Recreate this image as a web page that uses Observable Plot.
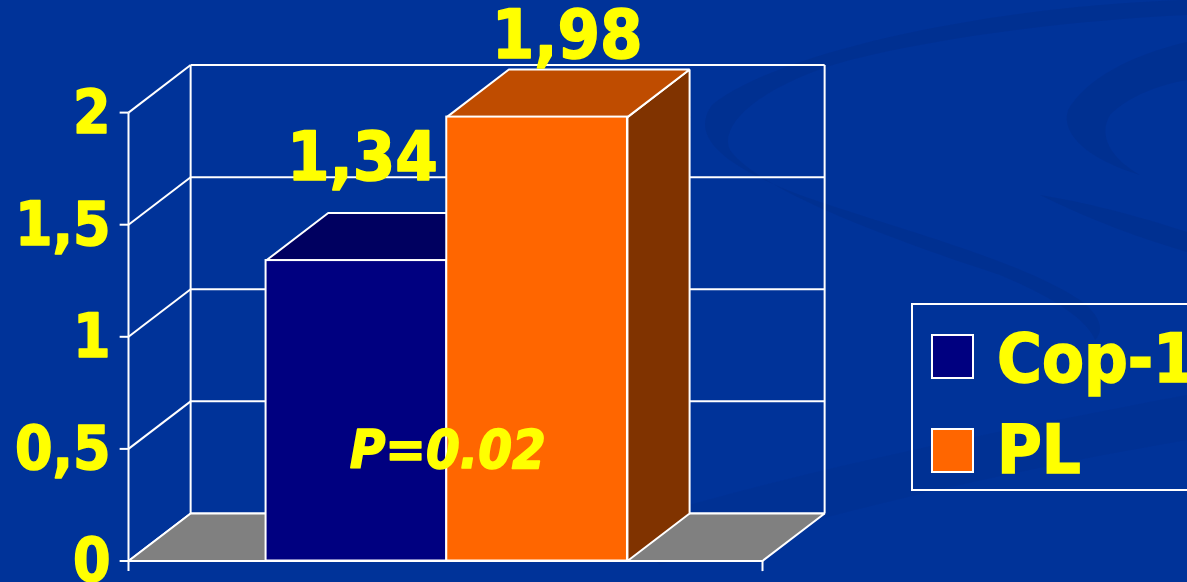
<!DOCTYPE html>
<html>
<head>
<meta charset="utf-8">
<script src="https://cdn.jsdelivr.net/npm/d3@7"></script>
<script src="https://cdn.jsdelivr.net/npm/@observablehq/plot@0.6"></script>
<style>
  html, body { margin: 0; padding: 0; background: #003399; overflow: hidden; }
  #wrap { position: relative; width: 1187px; height: 582px; overflow: hidden; background: #003399; }
  #bg { position: absolute; left: 0; top: 0; }
  #chart { position: absolute; left: 0; top: 0; }
  #legend { position: absolute; left: 911px; top: 303px; width: 300px; height: 188px;
            border: 2px solid #fff; box-sizing: border-box; }
  .sw { position: absolute; left: 18px; width: 39px; height: 41px; border: 2px solid #fff; }
  .lab { position: absolute; left: 84px; color: #ffff00; font-family: 'DejaVu Sans Condensed', 'DejaVu Sans', sans-serif;
         font-weight: bold; font-size: 68px; line-height: 68px; white-space: nowrap;
         -webkit-text-stroke: 1.5px #ffff00; }
</style>
</head>
<body>
<div id="wrap">
  <svg id="bg" width="1187" height="582">
    <g fill="#00308f" opacity="0.75">
      <path d="M1187,0 C1000,5 780,50 712,105 C690,135 720,165 800,195 C900,230 1020,260 1080,300 C1100,315 1105,330 1095,340 C1088,322 1060,300 1000,275 C900,242 760,192 730,150 C718,125 760,85 850,60 C950,35 1080,20 1187,15 Z"/>
      <path d="M1187,42 C1130,55 1085,80 1068,110 C1060,135 1090,160 1140,175 C1110,158 1098,135 1110,115 C1130,95 1160,85 1187,80 Z"/>
      <path d="M1040,195 C1100,205 1150,220 1187,232 L1187,252 C1140,238 1090,220 1040,195 Z"/>
      <path d="M620,525 C800,470 1000,430 1187,395 L1187,440 C1000,472 820,515 660,565 Z" opacity="0.6"/>
    </g>
  </svg>
  <div id="chart"></div>
  <div id="legend"></div>
</div>
<script>
// ---- data ----
const categories = ["Cop-1", "PL"];
const values = [1.34, 1.98];
const valueLabels = ["1,34", "1,98"];
const frontColors = ["#000080", "#FF6600"];
const topColors = ["#000060", "#BF4C00"];
const sideColors = ["#000040", "#803300"];
const yTicks = [0, 0.5, 1, 1.5, 2];
const yTickLabels = ["0", "0,5", "1", "1,5", "2"];
const annotation = "P=0.02";

// ---- layout constants (3D projection) ----
const DX = 0.098;      // depth offset along x (category units)
const DY = 0.212;      // depth offset along y (value units)
const BAR_START = 0.217;
const BAR_W = 0.285;
const TICK = 0.014;
const FONT = "'DejaVu Sans Condensed', 'DejaVu Sans', sans-serif";
const YELLOW = "#ffff00";

const bars = categories.map((c, i) => ({
  cat: c, v: values[i], label: valueLabels[i],
  x1: BAR_START + i * BAR_W, x2: BAR_START + (i + 1) * BAR_W,
  front: frontColors[i], top: topColors[i], side: sideColors[i]
}));

const poly = (pts, fill) => Plot.line(pts, {
  x: "x", y: "y", curve: "linear-closed", fill, stroke: "white", strokeWidth: 2, strokeLinejoin: "miter"
});
const textStyle = {fill: YELLOW, stroke: YELLOW, strokeWidth: 1.5, fontWeight: "bold", fontFamily: FONT};

const yMax = Math.max(...yTicks);
const marks = [];

// back wall gridlines
marks.push(Plot.link(yTicks, {x1: DX, x2: 1 + DX, y1: d => d + DY, y2: d => d + DY, stroke: "white", strokeWidth: 2}));
marks.push(Plot.link([DX, 1 + DX], {x1: d => d, x2: d => d, y1: DY, y2: yMax + DY, stroke: "white", strokeWidth: 2}));
// left wall diagonals
marks.push(Plot.link(yTicks, {x1: 0, x2: DX, y1: d => d, y2: d => d + DY, stroke: "white", strokeWidth: 2}));
// floor
marks.push(poly([{x: 0, y: 0}, {x: 1, y: 0}, {x: 1 + DX, y: DY}, {x: DX, y: DY}], "#808080"));
// front value axis
marks.push(Plot.link([0], {x1: 0, x2: 0, y1: -0.045, y2: yMax, stroke: "white", strokeWidth: 2}));
marks.push(Plot.link(yTicks, {x1: -TICK, x2: 0, y1: d => d, y2: d => d, stroke: "white", strokeWidth: 2}));
marks.push(Plot.link([1], {x1: d => d, x2: d => d, y1: -0.045, y2: 0, stroke: "white", strokeWidth: 2}));
// y tick labels
marks.push(Plot.text(yTicks, {x: 0, y: d => d, text: (d, i) => yTickLabels[i], textAnchor: "end", dx: -18, dy: 1,
  fontSize: 60, ...textStyle}));

// bars
for (const b of bars) {
  marks.push(poly([{x: b.x2, y: 0}, {x: b.x2 + DX, y: DY}, {x: b.x2 + DX, y: b.v + DY}, {x: b.x2, y: b.v}], b.side));
  marks.push(poly([{x: b.x1, y: b.v}, {x: b.x2, y: b.v}, {x: b.x2 + DX, y: b.v + DY}, {x: b.x1 + DX, y: b.v + DY}], b.top));
  marks.push(Plot.rect([b], {x1: "x1", x2: "x2", y1: 0, y2: "v", fill: b.front, stroke: "white", strokeWidth: 2}));
}
// value labels
marks.push(Plot.text([bars[0]], {x: d => (d.x1 + d.x2) / 2, y: d => d.v + DY, text: "label", dx: 6, dy: -55,
  fontSize: 68, ...textStyle}));
marks.push(Plot.text([bars[1]], {x: d => (d.x1 + d.x2) / 2 + DX / 2, y: d => d.v + DY, text: "label", dx: -1, dy: -33,
  fontSize: 68, ...textStyle}));
// annotation
marks.push(Plot.text([annotation], {x: (bars[0].x2 + bars[1].x1) / 2, y: 0.5, text: d => d, dy: 2, dx: 1,
  fontSize: 54, fontStyle: "italic", ...textStyle}));

const chart = Plot.plot({
  width: 1187, height: 582,
  marginLeft: 128, marginRight: 425, marginTop: 0, marginBottom: 21.5,
  x: {domain: [0, 1], axis: null},
  y: {domain: [0, 2.5], axis: null},
  style: {background: "transparent", overflow: "visible"},
  marks
});
document.getElementById("chart").appendChild(chart);

// legend
const legend = document.getElementById("legend");
const swTop = [29, 123];
const labTop = [20, 111];
categories.forEach((c, i) => {
  const sw = document.createElement("div");
  sw.className = "sw";
  sw.style.top = swTop[i] + "px";
  sw.style.background = frontColors[i];
  legend.appendChild(sw);
  const lab = document.createElement("div");
  lab.className = "lab";
  lab.style.top = labTop[i] + "px";
  lab.textContent = c;
  legend.appendChild(lab);
});
</script>
</body>
</html>
